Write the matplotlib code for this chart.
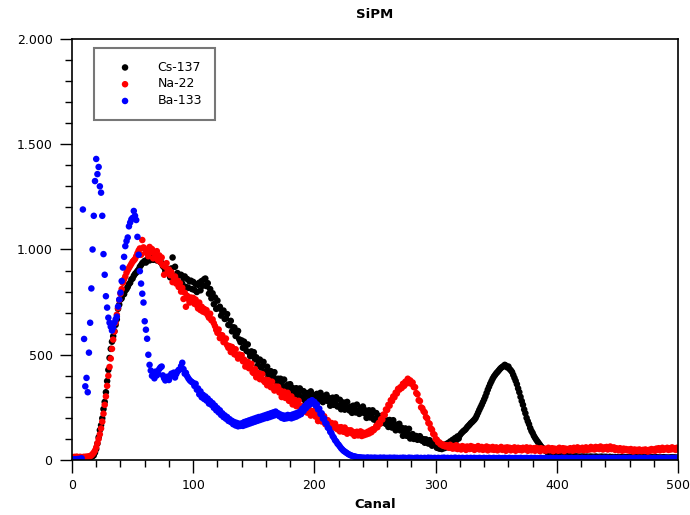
import numpy as np
import matplotlib
matplotlib.use('Agg')
import matplotlib.pyplot as plt
from matplotlib.ticker import MultipleLocator, FuncFormatter

# counts per channel (channel 0..500)
cs137 = [
    10, 9, 12, 11, 8, 13, 10, 12, 9, 11,
    12, 10, 13, 11, 14, 12, 15, 18, 22, 35,
    52, 78, 108, 142, 165, 198, 242, 276, 322, 375,
    428, 485, 528, 562, 588, 612, 642, 668, 718, 738,
    762, 768, 785, 788, 805, 812, 822, 835, 842, 858,
    862, 875, 884, 890, 898, 905, 918, 926, 935, 940,
    946, 938, 952, 958, 948, 957, 962, 951, 964, 955,
    948, 962, 958, 940, 935, 921, 915, 898, 906, 892,
    905, 868, 910, 962, 872, 918, 850, 888, 876, 842,
    880, 838, 866, 872, 822, 860, 818, 848, 852, 812,
    846, 808, 836, 798, 832, 842, 806, 850, 828, 858,
    862, 826, 840, 790, 812, 768, 792, 740, 772, 718,
    757, 721, 728, 686, 705, 710, 670, 673, 693, 642,
    640, 661, 611, 630, 629, 589, 600, 613, 573, 560,
    568, 533, 562, 541, 518, 549, 512, 493, 516, 501,
    512, 478, 488, 447, 469, 477, 439, 445, 466, 418,
    418, 443, 396, 419, 422, 385, 400, 417, 380, 371,
    386, 354, 386, 368, 348, 382, 348, 332, 358, 346,
    360, 329, 342, 305, 330, 341, 306, 315, 340, 295,
    298, 327, 284, 311, 318, 286, 305, 326, 294, 289,
    308, 279, 314, 299, 282, 319, 288, 275, 303, 294,
    310, 280, 294, 258, 284, 296, 262, 272, 298, 254,
    258, 286, 241, 267, 273, 239, 256, 276, 242, 235,
    253, 224, 258, 243, 226, 263, 232, 219, 247, 238,
    254, 223, 236, 200, 225, 236, 202, 211, 236, 192,
    195, 223, 178, 204, 209, 175, 193, 212, 178, 171,
    188, 157, 190, 173, 154, 189, 156, 141, 168, 157,
    172, 140, 153, 115, 140, 150, 115, 123, 148, 102,
    110, 123, 100, 112, 114, 96, 104, 113, 95, 91,
    99, 82, 98, 88, 78, 94, 77, 68, 81, 74,
    80, 58, 72, 54, 66, 52, 70, 56, 74, 60,
    80, 66, 88, 78, 96, 86, 104, 94, 112, 102,
    118, 126, 132, 138, 142, 148, 156, 162, 168, 175,
    180, 186, 192, 200, 212, 225, 238, 250, 262, 275,
    288, 302, 318, 334, 348, 362, 374, 386, 396, 404,
    412, 418, 425, 432, 438, 442, 446, 452, 448, 440,
    444, 432, 426, 418, 404, 390, 376, 360, 340, 322,
    300, 280, 262, 240, 222, 200, 184, 170, 152, 138,
    128, 115, 105, 96, 88, 80, 72, 64, 58, 52,
    47, 42, 38, 34, 30, 28, 26, 24, 22, 21,
    20, 19, 18, 19, 17, 18, 16, 17, 18, 16,
    17, 15, 16, 18, 15, 16, 17, 15, 16, 14,
    16, 15, 17, 14, 15, 16, 14, 15, 16, 14,
    15, 14, 16, 15, 13, 15, 14, 16, 13, 15,
    14, 15, 13, 14, 15, 13, 14, 12, 14, 13,
    14, 12, 13, 14, 12, 13, 14, 12, 13, 12,
    13, 12, 14, 12, 13, 11, 12, 13, 12, 11,
    12, 13, 11, 12, 13, 11, 12, 11, 13, 12,
    11, 12, 13, 11, 12, 10, 12, 11, 13, 11,
    12, 11, 10, 12, 11, 13, 10, 12, 11, 10,
    11,
]

na22 = [
    14, 12, 15, 13, 16, 12, 14, 15, 13, 14,
    15, 14, 16, 15, 17, 18, 22, 28, 35, 45,
    60, 80, 100, 122, 150, 182, 220, 262, 302, 352,
    400, 442, 482, 528, 572, 610, 652, 690, 722, 760,
    790, 812, 842, 858, 872, 890, 902, 912, 922, 932,
    942, 948, 955, 968, 982, 995, 1005, 975, 1045, 1010,
    1002, 985, 995, 968, 1012, 988, 1002, 958, 982, 965,
    992, 948, 972, 940, 962, 925, 880, 918, 935, 898,
    905, 878, 892, 845, 868, 872, 838, 852, 822, 840,
    800, 818, 765, 795, 728, 780, 765, 748, 772, 756,
    770, 742, 762, 735, 720, 748, 712, 728, 705, 718,
    700, 712, 688, 676, 695, 664, 668, 650, 636, 618,
    604, 620, 579, 594, 592, 560, 568, 577, 545, 533,
    541, 513, 537, 520, 502, 526, 497, 482, 501, 488,
    498, 469, 477, 444, 461, 466, 436, 439, 457, 417,
    412, 432, 393, 412, 413, 384, 395, 408, 378, 370,
    381, 355, 379, 364, 346, 372, 343, 330, 349, 338,
    348, 321, 330, 299, 317, 324, 295, 300, 319, 281,
    282, 302, 264, 283, 285, 256, 268, 281, 252, 244,
    256, 230, 256, 241, 225, 251, 224, 211, 232, 221,
    233, 206, 216, 185, 204, 211, 183, 188, 208, 170,
    174, 189, 161, 175, 176, 154, 163, 173, 151, 146,
    155, 136, 156, 145, 134, 154, 134, 125, 141, 134,
    141, 126, 133, 115, 128, 134, 117, 122, 136, 114,
    130, 118, 128, 122, 134, 126, 140, 132, 146, 142,
    150, 162, 156, 176, 172, 194, 192, 216, 214, 240,
    238, 262, 258, 284, 280, 302, 298, 320, 316, 338,
    334, 346, 342, 362, 352, 372, 364, 386, 366, 378,
    362, 368, 346, 346, 318, 312, 284, 280, 250, 246,
    232, 226, 204, 198, 176, 172, 150, 144, 124, 120,
    100, 96, 84, 84, 74, 76, 68, 72, 64, 70,
    68, 58, 72, 60, 54, 66, 56, 70, 52, 64,
    60, 50, 66, 56, 62, 48, 64, 58, 52, 66,
    54, 62, 48, 60, 56, 66, 50, 58, 62, 48,
    58, 52, 64, 46, 60, 54, 50, 62, 48, 56,
    60, 46, 56, 52, 62, 48, 54, 58, 44, 60,
    52, 58, 46, 56, 50, 60, 44, 54, 58, 48,
    56, 46, 58, 50, 54, 60, 44, 52, 58, 46,
    50, 56, 44, 58, 48, 54, 42, 56, 50, 46,
    54, 44, 52, 58, 46, 50, 56, 42, 54, 48,
    52, 44, 58, 46, 50, 56, 42, 54, 48, 52,
    46, 56, 50, 44, 58, 48, 52, 60, 46, 54,
    50, 58, 46, 54, 60, 48, 56, 50, 62, 52,
    58, 50, 62, 54, 60, 52, 64, 56, 50, 60,
    54, 62, 50, 58, 64, 52, 56, 60, 48, 56,
    52, 46, 56, 50, 44, 54, 48, 52, 46, 50,
    44, 52, 46, 40, 50, 44, 48, 42, 50, 46,
    42, 48, 44, 50, 46, 40, 48, 44, 52, 46,
    50, 44, 54, 48, 56, 46, 52, 58, 48, 54,
    52, 58, 48, 56, 50, 60, 52, 56, 48, 58,
    54,
]

ba133 = [
    2, 3, 2, 4, 3, 5, 4, 6, 8, 1190,
    575, 350, 390, 322, 510, 652, 815, 1000, 1160, 1325,
    1430, 1358, 1392, 1300, 1270, 1160, 978, 880, 778, 724,
    676, 652, 633, 615, 629, 652, 668, 681, 729, 762,
    795, 850, 914, 965, 1016, 1040, 1057, 1110, 1128, 1143,
    1150, 1183, 1160, 1140, 1060, 975, 897, 838, 790, 748,
    659, 619, 576, 500, 452, 425, 400, 412, 388, 420,
    402, 410, 432, 440, 444, 402, 388, 378, 390, 396,
    380, 398, 410, 405, 415, 392, 408, 420, 428, 430,
    446, 462, 432, 410, 414, 398, 388, 380, 374, 370,
    366, 352, 362, 334, 340, 312, 326, 298, 310, 290,
    302, 282, 292, 268, 280, 262, 270, 248, 258, 236,
    246, 226, 236, 214, 222, 204, 212, 196, 204, 186,
    194, 180, 186, 170, 180, 164, 176, 160, 172, 162,
    174, 162, 180, 166, 184, 170, 188, 174, 192, 178,
    196, 182, 200, 186, 204, 190, 206, 194, 210, 198,
    214, 200, 218, 204, 222, 208, 226, 212, 230, 216,
    222, 208, 216, 200, 212, 196, 210, 198, 214, 200,
    212, 198, 216, 202, 220, 206, 224, 212, 230, 218,
    244, 232, 256, 246, 268, 258, 278, 266, 284, 272,
    276, 258, 264, 240, 244, 218, 222, 196, 198, 176,
    172, 154, 150, 134, 128, 114, 106, 94, 88, 78,
    72, 64, 56, 50, 44, 40, 36, 32, 28, 25,
    22, 20, 18, 17, 15, 14, 13, 12, 12, 11,
    10, 11, 9, 10, 12, 9, 10, 11, 9, 10,
    11, 9, 10, 8, 11, 10, 9, 11, 10, 9,
    10, 8, 11, 9, 10, 9, 11, 8, 10, 9,
    9, 10, 8, 11, 9, 10, 8, 9, 11, 9,
    10, 9, 8, 10, 9, 11, 8, 9, 10, 8,
    9, 10, 8, 9, 11, 8, 10, 9, 8, 10,
    9, 8, 10, 9, 8, 10, 9, 11, 8, 9,
    10, 8, 9, 10, 8, 9, 11, 9, 8, 10,
    9, 8, 10, 9, 8, 9, 10, 8, 9, 10,
    8, 9, 10, 8, 9, 8, 10, 9, 8, 9,
    10, 8, 9, 8, 10, 9, 8, 9, 10, 8,
    9, 8, 10, 9, 8, 9, 8, 10, 9, 8,
    9, 10, 8, 9, 8, 9, 10, 8, 9, 8,
    10, 9, 8, 9, 8, 10, 9, 8, 9, 10,
    8, 9, 10, 8, 9, 8, 9, 10, 8, 9,
    8, 10, 9, 8, 9, 10, 8, 9, 8, 9,
    10, 8, 9, 8, 10, 9, 8, 9, 10, 8,
    9, 8, 10, 9, 8, 9, 8, 10, 9, 8,
    9, 10, 8, 9, 8, 9, 10, 8, 9, 8,
    10, 9, 8, 9, 8, 10, 9, 8, 9, 10,
    8, 9, 10, 8, 9, 8, 9, 10, 8, 9,
    8, 10, 9, 8, 9, 10, 8, 9, 8, 9,
    10, 8, 9, 8, 10, 9, 8, 9, 10, 8,
    9, 8, 10, 9, 8, 9, 8, 10, 9, 8,
    9, 10, 8, 9, 8, 9, 10, 8, 9, 8,
    10, 9, 8, 9, 8, 10, 9, 8, 9, 10,
    9,
]

series = [('Cs-137', cs137, '#000000'),
          ('Na-22', na22, '#ff0000'),
          ('Ba-133', ba133, '#0000ff')]

plt.rcParams['font.family'] = ['DejaVu Sans']

fig = plt.figure(figsize=(6.9, 5.15), dpi=100)
ax = fig.add_axes([0.1043, 0.1068, 0.8785, 0.8175])

for name, vals, col in series:
    ch = np.arange(len(vals))
    ax.scatter(ch, vals, s=22, color=col, edgecolors='none', label=name)

ax.set_xlim(0, 500)
ax.set_ylim(0, 2000)
ax.xaxis.set_major_locator(MultipleLocator(100))
ax.xaxis.set_minor_locator(MultipleLocator(20))
ax.yaxis.set_major_locator(MultipleLocator(500))
ax.yaxis.set_minor_locator(MultipleLocator(100))
ax.yaxis.set_major_formatter(FuncFormatter(lambda v, p: f'{int(v):,}'.replace(',', '.')))

ax.tick_params(which='major', direction='out', length=9, width=1, labelsize=9, pad=5)
ax.tick_params(which='minor', direction='out', length=5, width=1)
for sp in ax.spines.values():
    sp.set_linewidth(1.2)

ax.set_title('SiPM', fontsize=9.5, fontweight='bold', pad=15)
ax.set_xlabel('Canal', fontsize=9.5, fontweight='bold', labelpad=4)

leg = ax.legend(loc='upper left', bbox_to_anchor=(0.036, 0.978), frameon=True,
                fancybox=False, fontsize=9, handletextpad=1.1, handlelength=3.0,
                borderpad=1.0, labelspacing=0.3, borderaxespad=0)
leg.get_frame().set_edgecolor('#555555')
leg.get_frame().set_linewidth(1.5)

fig.savefig('out.png', dpi=100)
